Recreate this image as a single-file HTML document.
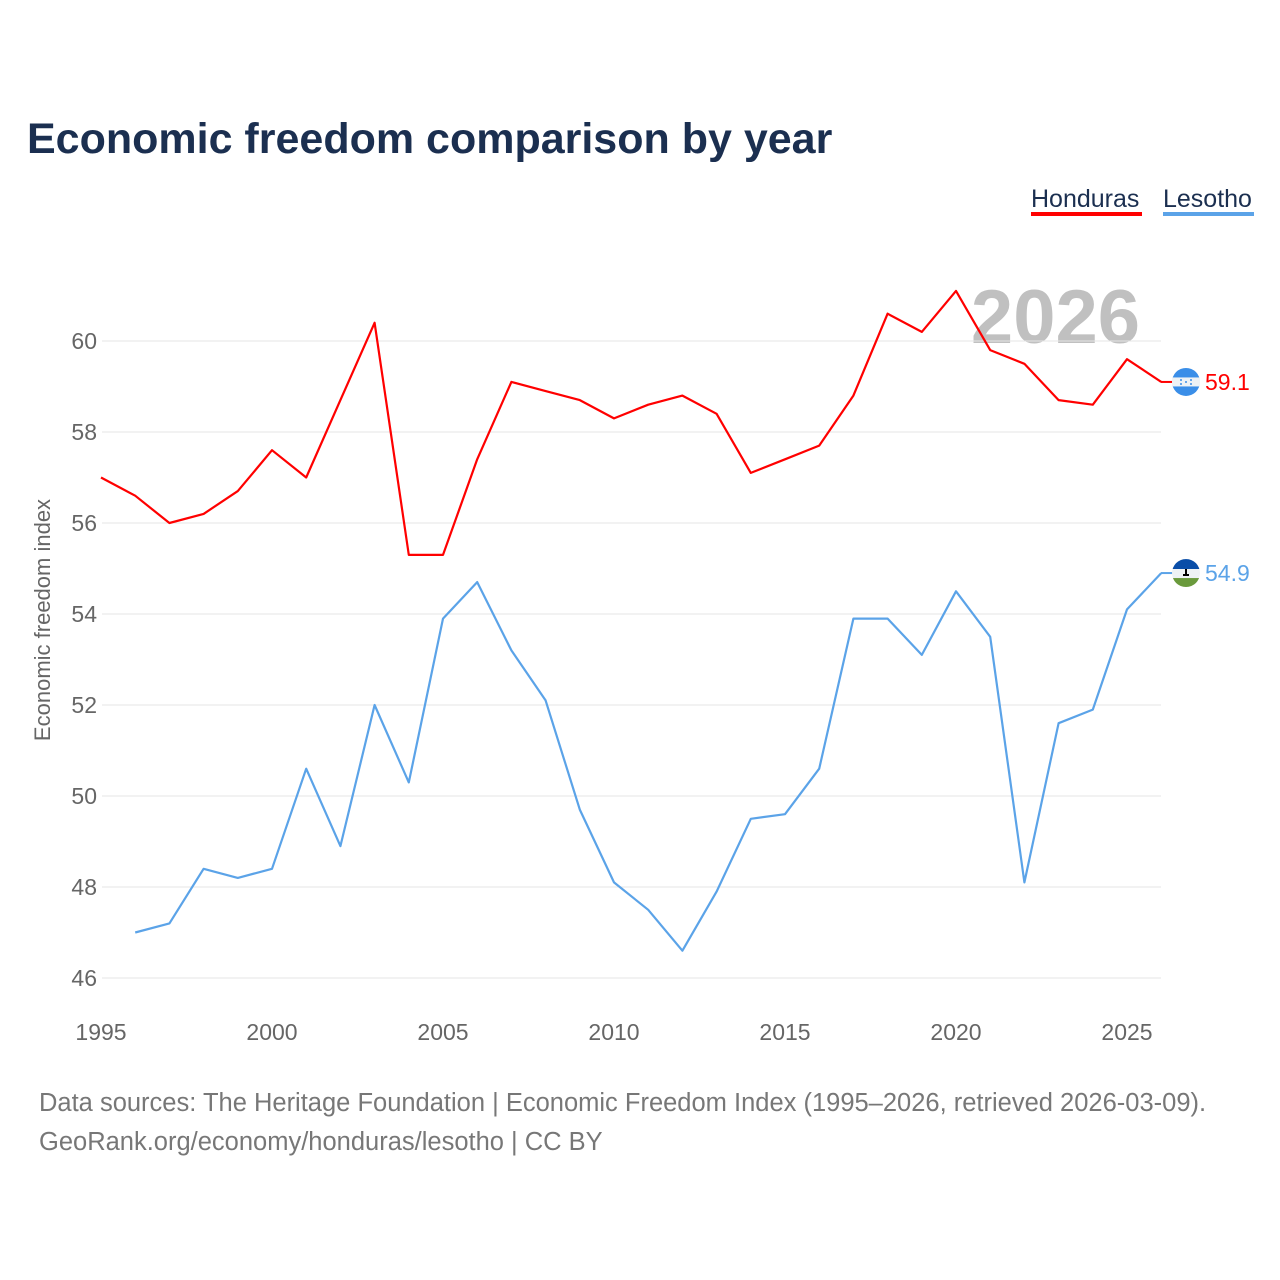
<!DOCTYPE html>
<html><head><meta charset="utf-8"><style>
body{margin:0;background:#fff;}
svg{display:block;font-family:"Liberation Sans",sans-serif;}
</style></head><body>
<svg id="chart" width="1280" height="1280">
<text x="27" y="153" font-size="43" font-weight="bold" fill="#1b2f50">Economic freedom comparison by year</text>
<g>
<text x="1031" y="207" font-size="25" fill="#1b2f50">Honduras</text>
<rect x="1031" y="212" width="111" height="4" fill="#ff0000"/>
<text x="1163" y="207" font-size="25" fill="#1b2f50">Lesotho</text>
<rect x="1163" y="212" width="91" height="4" fill="#5ba3e8"/>
</g>
<text x="1140" y="343" font-size="76" font-weight="bold" fill="#c0c0c0" text-anchor="end">2026</text>
<g id="grid"></g><g id="series"></g>
<text transform="translate(50,620) rotate(-90)" font-size="22" fill="#666" text-anchor="middle">Economic freedom index</text>
<text x="39" y="1111" font-size="25.5" fill="#777">Data sources: The Heritage Foundation | Economic Freedom Index (1995–2026, retrieved 2026-03-09).</text>
<text x="39" y="1150" font-size="25.5" fill="#777">GeoRank.org/economy/honduras/lesotho | CC BY</text>
</svg>
<script>
const years=[1995,1996,1997,1998,1999,2000,2001,2002,2003,2004,2005,2006,2007,2008,2009,2010,2011,2012,2013,2014,2015,2016,2017,2018,2019,2020,2021,2022,2023,2024,2025,2026];
const honduras=[57.0,56.6,56.0,56.2,56.7,57.6,57.0,58.7,60.4,55.3,55.3,57.4,59.1,58.9,58.7,58.3,58.6,58.8,58.4,57.1,57.4,57.7,58.8,60.6,60.2,61.1,59.8,59.5,58.7,58.6,59.6,59.1];
const lesotho=[null,47.0,47.2,48.4,48.2,48.4,50.6,48.9,52.0,50.3,53.9,54.7,53.2,52.1,49.7,48.1,47.5,46.6,47.9,49.5,49.6,50.6,53.9,53.9,53.1,54.5,53.5,48.1,51.6,51.9,54.1,54.9];
const yTicks=[46,48,50,52,54,56,58,60];
const xTicks=[1995,2000,2005,2010,2015,2020,2025];
const NS="http://www.w3.org/2000/svg";
const X=y=>101+(y-1995)*(1026/30);
const Y=v=>341+(60-v)*(637/14);
function mk(t,a,p){const e=document.createElementNS(NS,t);for(const k in a)e.setAttribute(k,a[k]);p.appendChild(e);return e;}
const grid=document.getElementById('grid'),ser=document.getElementById('series');
yTicks.forEach(v=>{
 const l=mk('line',{x1:102,x2:1161,y1:Y(v),y2:Y(v),stroke:'#e6e6e6','stroke-width':1},grid);
 
 
 const t=mk('text',{x:97,y:Y(v)+8,'font-size':23,fill:'#666','text-anchor':'end'},grid);t.textContent=v;
 
 
});
xTicks.forEach(v=>{
 const t=mk('text',{x:X(v),y:1040,'font-size':23,fill:'#666','text-anchor':'middle'},grid);t.textContent=v;
 
 
});
function line(vals,col,name){
 let d='';vals.forEach((v,i)=>{if(v==null)return;d+=(d?'L':'M')+X(years[i]).toFixed(1)+','+Y(v).toFixed(1);});
 const p=mk('path',{d:d,fill:'none',stroke:col,'stroke-width':2.2,'stroke-linejoin':'round'},ser);
 
 
 const last=vals[vals.length-1],cy=Y(last);
 mk('line',{x1:1161,x2:1176,y1:cy,y2:cy,stroke:col,'stroke-width':2},ser);
 const t=mk('text',{x:1205,y:cy+8,'font-size':23,fill:col},ser);t.textContent=last.toFixed(1);
 
 
 return cy;
}
const hy=line(honduras,'#ff0000','honduras');
const ly=line(lesotho,'#5ba3e8','lesotho');
const gH=mk('g',{},ser);


mk('circle',{cx:1186,cy:hy,r:14,fill:'#3a8ee8'},gH);
mk('rect',{x:1172,y:hy-4.5,width:28,height:9,fill:'#eef2f5'},gH);
[[-5,-2],[5,-2],[0,0],[-5,2],[5,2]].forEach(p=>mk('circle',{cx:1186+p[0],cy:hy+p[1],r:1,fill:'#3a8ee8'},gH));
const gL=mk('g',{},ser);


mk('clipPath',{id:'lc'},gL).appendChild(document.createElementNS(NS,'circle'));
const cc=gL.querySelector('clipPath circle');cc.setAttribute('cx',1186);cc.setAttribute('cy',ly);cc.setAttribute('r',14);
const gi=mk('g',{'clip-path':'url(#lc)'},gL);
mk('rect',{x:1172,y:ly-14,width:28,height:10,fill:'#0a4ea8'},gi);
mk('rect',{x:1172,y:ly-4,width:28,height:9,fill:'#eef2f5'},gi);
mk('rect',{x:1172,y:ly+5,width:28,height:10,fill:'#6a9a3c'},gi);
mk('path',{d:`M1186,${ly-4}L1186,${ly+1}M1183,${ly+2}L1189,${ly+2}`,stroke:'#000','stroke-width':2},gi);
</script>
</body></html>
